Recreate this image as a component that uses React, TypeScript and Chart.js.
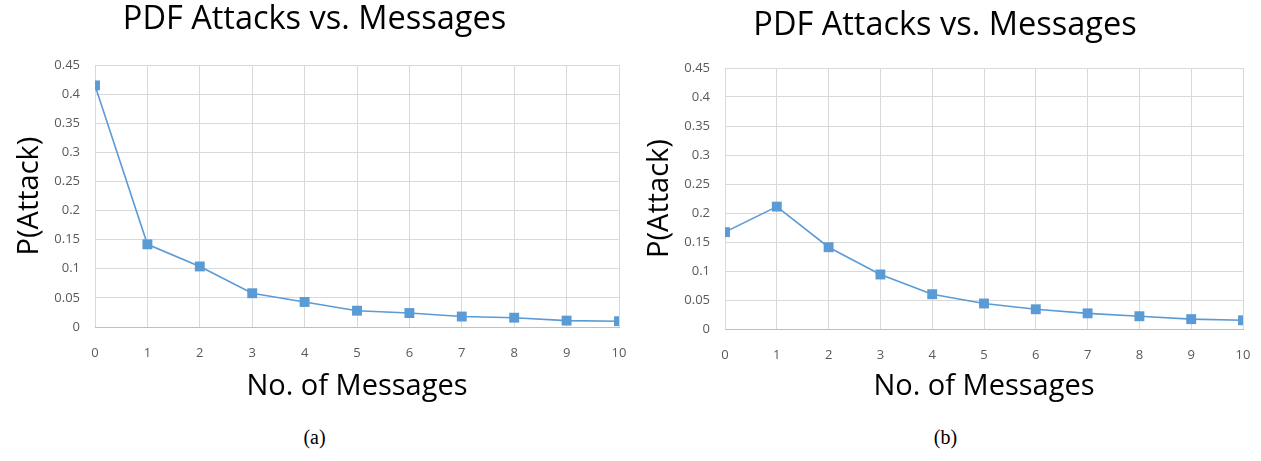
import React, { useEffect, useRef } from "react";
import { Chart, registerables } from "chart.js";

Chart.register(...registerables);

const messages = [0, 1, 2, 3, 4, 5, 6, 7, 8, 9, 10];
const seriesA = [0.415, 0.142, 0.104, 0.058, 0.043, 0.028, 0.024, 0.018, 0.016, 0.011, 0.010];
const seriesB = [0.167, 0.211, 0.141, 0.094, 0.060, 0.044, 0.034, 0.027, 0.022, 0.017, 0.015];
const yTicks = [0, 0.05, 0.1, 0.15, 0.2, 0.25, 0.3, 0.35, 0.4, 0.45];
const chartTitle = "PDF Attacks vs. Messages";
const xTitle = "No. of Messages";
const yTitle = "P(Attack)";

const FONT = "'Open Sans', 'Noto Sans', sans-serif";
const BLUE = "#5B9BD5";

type PanelProps = {
  values: number[];
  caption: string;
  left: number;
  width: number;
  height: number;
  padLeft: number;
  padRight: number;
  yAxisWidth: number;
  yTitlePad: number;
  titlePadTop: number;
  titlePadBottom: number;
  xAxisHeight: number;
};

function Panel(p: PanelProps) {
  const ref = useRef<HTMLCanvasElement | null>(null);
  useEffect(() => {
    if (!ref.current) return;
    const chart = new Chart(ref.current, {
      type: "line",
      data: {
        datasets: [
          {
            data: messages.map((m, i) => ({ x: m, y: p.values[i] })),
            borderColor: BLUE,
            backgroundColor: BLUE,
            borderWidth: 1.6,
            pointStyle: "rect",
            pointRadius: 7,
            pointBorderWidth: 0,
            pointBackgroundColor: BLUE,
            tension: 0,
          },
        ],
      },
      options: {
        responsive: false,
        animation: false,
        layout: { padding: { left: p.padLeft, right: p.padRight, top: 0, bottom: 0 } },
        plugins: {
          legend: { display: false },
          tooltip: { enabled: false },
          title: {
            display: true,
            text: chartTitle,
            color: "#000",
            font: { family: FONT, size: 32.5, weight: "normal", lineHeight: 1.2 },
            padding: { top: p.titlePadTop, bottom: p.titlePadBottom },
          },
        },
        scales: {
          x: {
            type: "linear",
            min: 0,
            max: 10,
            afterFit: (s: any) => {
              s.height = p.xAxisHeight;
              s.paddingLeft = 0;
              s.paddingRight = 0;
            },
            ticks: {
              stepSize: 1,
              color: "#595959",
              font: { family: FONT, size: 13 },
              padding: 18,
              maxRotation: 0,
            },
            grid: { color: "#D9D9D9", lineWidth: 1, drawTicks: false },
            border: { color: "#BFBFBF", width: 1 },
            title: {
              display: true,
              text: xTitle,
              color: "#000",
              font: { family: FONT, size: 29, weight: "normal", lineHeight: 1.2 },
              padding: { top: 0, bottom: 6 },
            },
          },
          y: {
            type: "linear",
            min: 0,
            max: 0.45,
            afterFit: (s: any) => {
              s.width = p.yAxisWidth;
            },
            afterBuildTicks: (s: any) => {
              s.ticks = yTicks.map((v) => ({ value: v }));
            },
            ticks: {
              color: "#595959",
              font: { family: FONT, size: 13 },
              padding: 15,
              callback: (v: any) => Number(Number(v).toFixed(2)).toString(),
            },
            grid: { color: "#D9D9D9", lineWidth: 1, drawTicks: false },
            border: { display: false },
            title: {
              display: true,
              text: yTitle,
              color: "#000",
              font: { family: FONT, size: 29, weight: "normal", lineHeight: 1.2 },
              padding: { top: p.yTitlePad, bottom: 0 },
            },
          },
        },
      },
    } as any);
    return () => chart.destroy();
  }, []);

  return (
    <div style={{ position: "absolute", left: p.left, top: 0, width: p.width, height: 461 }}>
      <canvas ref={ref} width={p.width} height={p.height} style={{ display: "block" }} />
      <div
        style={{
          position: "absolute",
          left: 0,
          width: p.width,
          top: 425,
          textAlign: "center",
          fontFamily: "'Liberation Serif', 'Times New Roman', serif",
          fontSize: 20,
          lineHeight: "24px",
          color: "#000",
        }}
      >
        {p.caption}
      </div>
    </div>
  );
}

export default function App() {
  return (
    <div style={{ position: "absolute", left: 0, top: 0, width: 1261, height: 461, background: "#fff", overflow: "hidden" }}>
      <Panel
        values={seriesA}
        caption="(a)"
        left={0}
        width={629}
        height={410}
        padLeft={10}
        padRight={10}
        yAxisWidth={85}
        yTitlePad={2}
        titlePadTop={0}
        titlePadBottom={26}
        xAxisHeight={83}
      />
      <Panel
        values={seriesB}
        caption="(b)"
        left={630}
        width={631}
        height={410}
        padLeft={17}
        padRight={18}
        yAxisWidth={78}
        yTitlePad={-5}
        titlePadTop={6}
        titlePadBottom={23}
        xAxisHeight={81}
      />
    </div>
  );
}
